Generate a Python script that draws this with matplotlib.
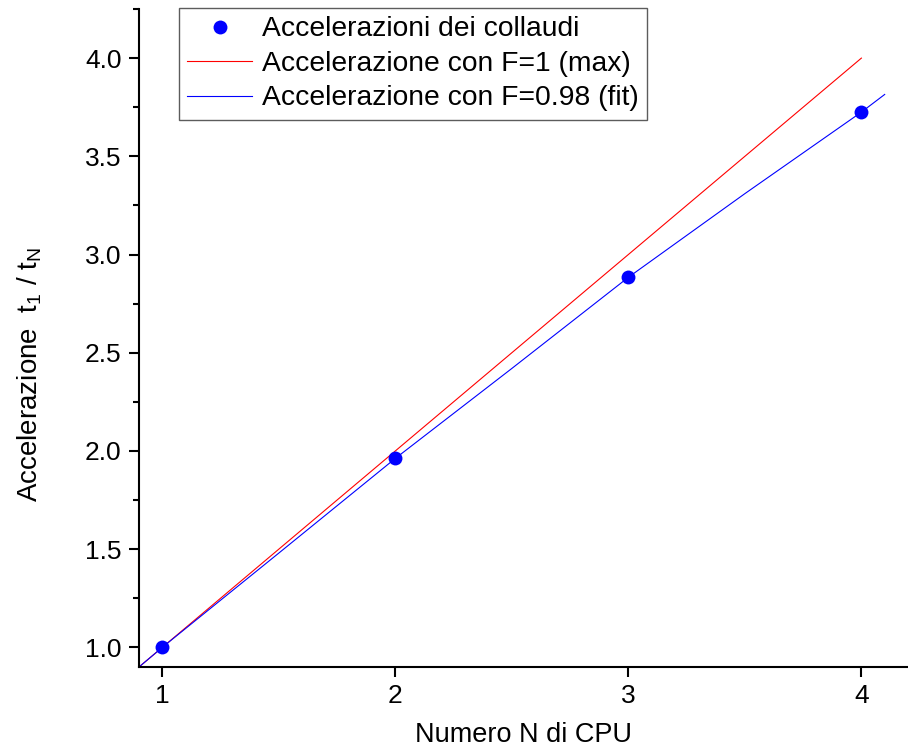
import matplotlib
matplotlib.use('Agg')
import matplotlib.pyplot as plt
from matplotlib.ticker import MultipleLocator

plt.rcParams['font.family'] = ['Liberation Sans', 'DejaVu Sans']

# --- data ---
cpu_n = [1, 2, 3, 4]
speedup = [1.0, 1.962, 2.884, 3.725]

max_x = [0.9, 4.0]
max_y = [0.9, 4.0]

fit_x = [0.9, 1.0, 1.5, 2.0, 2.5, 3.0, 3.5, 4.0, 4.1]
fit_y = [0.90, 1.0, 1.48, 1.962, 2.42, 2.884, 3.31, 3.725, 3.815]

labels = ['Accelerazioni dei collaudi',
          'Accelerazione con F=1 (max)',
          'Accelerazione con F=0.98 (fit)']

fig = plt.figure(figsize=(9.08, 7.49), dpi=100, facecolor='white')
ax = fig.add_axes([139/908, 1 - 667/749, 1 - 139/908, (667 - 9)/749])

ax.plot(max_x, max_y, color='#ff0000', lw=0.8, label=labels[1])
ax.plot(fit_x, fit_y, color='#0000ff', lw=0.8, label=labels[2])
ax.plot(cpu_n, speedup, 'o', color='#0000ff', ms=10, mec='none', label=labels[0])

ax.set_xlim(0.9, 4.2)
ax.set_ylim(0.9, 4.25)
ax.set_xticks([1, 2, 3, 4])
ax.yaxis.set_major_locator(MultipleLocator(0.5))
ax.yaxis.set_minor_locator(MultipleLocator(0.25))
ax.yaxis.set_major_formatter(matplotlib.ticker.FormatStrFormatter('%.1f'))

for s in ['top', 'right']:
    ax.spines[s].set_visible(False)
for s in ['left', 'bottom']:
    ax.spines[s].set_linewidth(1.5)
ax.tick_params(which='major', direction='out', length=7.5, width=1.5, labelsize=19, pad=5)
ax.tick_params(which='minor', direction='out', length=4.5, width=1.5)

ax.set_xlabel('Numero N di CPU', fontsize=19.5, va='center')
ax.xaxis.set_label_coords(0.5, -0.103)
ax.set_ylabel(r'Accelerazione  t$_{\mathregular{1}}$ / t$_{\mathregular{N}}$', fontsize=20, va='center')
ax.yaxis.set_label_coords(-0.142, 0.445)

h, l = ax.get_legend_handles_labels()
order = [2, 0, 1]
leg = fig.legend([h[i] for i in order], [l[i] for i in order],
                 loc='upper left', bbox_to_anchor=(179/908, 1 - 8/749),
                 fontsize=20.3, frameon=True, fancybox=False, edgecolor='#333333',
                 borderpad=0.3, labelspacing=0.3, handlelength=2.3, handletextpad=0.35,
                 borderaxespad=0)
leg.get_frame().set_linewidth(1.0)

fig.savefig('out.png', dpi=100, facecolor='white')
